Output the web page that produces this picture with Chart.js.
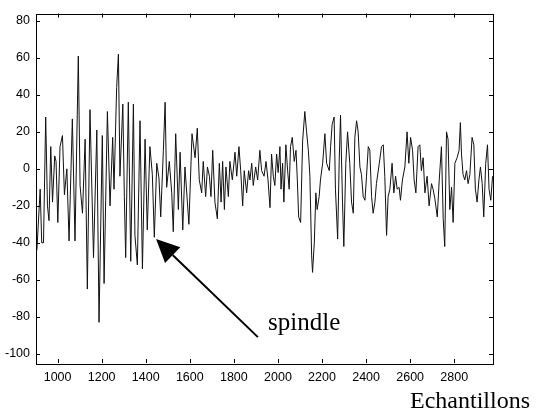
<!DOCTYPE html>
<html>
<head>
<meta charset="utf-8">
<script src="https://cdn.jsdelivr.net/npm/chart.js@4.4.1/dist/chart.umd.min.js"></script>
<style>
  html, body { margin: 0; padding: 0; background: #fff; }
</style>
</head>
<body>
<canvas id="eegChart" width="541" height="416"></canvas>
<script>
// sample index / amplitude (peaks and troughs)
const samples = [
  906, 921, 928, 936, 946, 954, 961, 969, 977, 987, 993, 1001, 1011, 1022, 1031, 1042, 1052, 1067, 1079, 1094,
  1102, 1113, 1125, 1135, 1147, 1163, 1178, 1188, 1203, 1211, 1226, 1238, 1250, 1256, 1268, 1276, 1283, 1296, 1303, 1309,
  1321, 1332, 1344, 1351, 1362, 1374, 1385, 1397, 1407, 1419, 1430, 1439, 1450, 1460, 1468, 1480, 1488, 1495, 1507, 1518,
  1525, 1536, 1548, 1556, 1568, 1578, 1589, 1596, 1610, 1624, 1634, 1643, 1654, 1661, 1672, 1680, 1689, 1696, 1704, 1714,
  1725, 1734, 1742, 1749, 1757, 1764, 1775, 1782, 1793, 1805, 1813, 1823, 1831, 1840, 1847, 1858, 1867, 1873, 1881, 1888,
  1899, 1908, 1918, 1926, 1937, 1946, 1955, 1964, 1971, 1979, 1986, 1994, 2001, 2009, 2014, 2021, 2027, 2036, 2044, 2051,
  2057, 2065, 2074, 2082, 2088, 2094, 2103, 2112, 2122, 2130, 2138, 2145, 2153, 2157, 2165, 2172, 2178, 2187, 2193, 2203,
  2213, 2221, 2233, 2239, 2246, 2255, 2261, 2271, 2278, 2284, 2293, 2299, 2308, 2316, 2326, 2334, 2342, 2349, 2357, 2364,
  2372, 2379, 2387, 2395, 2402, 2410, 2417, 2425, 2432, 2440, 2447, 2460, 2470, 2478, 2485, 2493, 2500, 2508, 2518, 2526,
  2534, 2541, 2550, 2556, 2565, 2576, 2586, 2594, 2602, 2611, 2618, 2626, 2636, 2644, 2651, 2659, 2667, 2677, 2686, 2697,
  2704, 2712, 2723, 2732, 2742, 2750, 2757, 2765, 2772, 2780, 2788, 2795, 2803, 2813, 2822, 2828, 2833, 2840, 2848, 2856,
  2863, 2871, 2881, 2889, 2896, 2904, 2912, 2919, 2927, 2934, 2943, 2951, 2958, 2966, 2974
];
const amplitude = [
  -44, -11, -40, -40, 28, -20, -28, 12, -18, 7, 4, -29, 12, 18, -14, 0, -39, 27, -39, 61,
  -9, -24, 16, -65, 32, -48, 21, -83, 18, -62, 31, -20, 17, -11, 44, 62, -4, 35, -15, -48,
  36, -50, 35, -36, -52, 26, -54, 16, -33, 12, -3, -37, 3, -5, -26, 10, 36, -10, 4, -13,
  -34, 19, -22, 9, -33, 1, -18, -30, 19, 6, 22, -6, -13, 4, -15, 1, -4, -15, 10, -18,
  -27, 3, -18, 4, -22, 1, -15, 4, -6, 9, -4, 12, -1, -20, -1, -13, -1, -6, 3, -9,
  1, -6, 10, -1, -4, 4, -6, -21, 8, -4, -9, 8, -2, 12, -11, 3, -18, 13, -1, -11,
  12, 17, 4, 10, -6, -26, -29, 15, 31, 20, 10, -4, -47, -56, -40, -13, -22, -15, -6, 3,
  19, 3, -1, 12, 24, 28, -11, -38, 4, 29, -18, -42, 3, 20, 3, -18, -24, 17, 26, 20,
  1, -3, -15, -17, -4, 12, 10, -15, -24, -18, -8, 3, 12, 13, -4, -36, -15, -11, 3, -13,
  -4, -11, -10, -17, -6, 1, 20, 3, 17, 10, -6, -13, 12, 13, -1, 6, -13, -4, -20, -8,
  -11, -16, -26, -6, 12, -27, -42, 20, 16, -22, -10, -29, 3, 6, 10, 25, 8, -3, -6, -1,
  -8, -3, 17, 13, -11, -18, -6, 1, -8, -26, 3, 13, -11, -17, -4
];
const xTicks = [1000, 1200, 1400, 1600, 1800, 2000, 2200, 2400, 2600, 2800];
const yTicks = [-100, -80, -60, -40, -20, 0, 20, 40, 60, 80];
const xTitle = 'Echantillons';
const noteText = 'spindle';
const noteTip = [1447, -38];
const noteTail = [1909, -91];
const noteAt = [1955, -87];

const frame = {
  id: 'frame',
  afterDraw(chart) {
    const ctx = chart.ctx;
    const a = chart.chartArea;
    const sx = chart.scales.x, sy = chart.scales.y;
    ctx.save();
    ctx.strokeStyle = '#000';
    ctx.lineWidth = 1;
    ctx.strokeRect(Math.round(a.left) + 0.5, Math.round(a.top) + 0.5, Math.round(a.right - a.left), Math.round(a.bottom - a.top));
    ctx.beginPath();
    xTicks.forEach(v => {
      const px = Math.round(sx.getPixelForValue(v)) + 0.5;
      ctx.moveTo(px, a.bottom); ctx.lineTo(px, a.bottom - 4);
      ctx.moveTo(px, a.top); ctx.lineTo(px, a.top + 4);
    });
    yTicks.forEach(v => {
      const py = Math.round(sy.getPixelForValue(v)) + 0.5;
      ctx.moveTo(a.left, py); ctx.lineTo(a.left + 4, py);
      ctx.moveTo(a.right, py); ctx.lineTo(a.right - 4, py);
    });
    ctx.stroke();

    // arrow pointing at the spindle
    const tx = sx.getPixelForValue(noteTip[0]), ty = sy.getPixelForValue(noteTip[1]);
    const ex = sx.getPixelForValue(noteTail[0]), ey = sy.getPixelForValue(noteTail[1]);
    const ang = Math.atan2(ty - ey, tx - ex);
    const hl = 23, hw = 11;
    const bx = tx - hl * Math.cos(ang), by = ty - hl * Math.sin(ang);
    ctx.lineWidth = 2;
    ctx.beginPath();
    ctx.moveTo(ex, ey); ctx.lineTo(bx, by);
    ctx.stroke();
    ctx.fillStyle = '#000';
    ctx.beginPath();
    ctx.moveTo(tx, ty);
    ctx.lineTo(bx + hw * Math.sin(ang), by - hw * Math.cos(ang));
    ctx.lineTo(bx - hw * Math.sin(ang), by + hw * Math.cos(ang));
    ctx.closePath();
    ctx.fill();

    ctx.font = '25px "Liberation Serif"';
    ctx.textAlign = 'left';
    ctx.textBaseline = 'alphabetic';
    ctx.fillText(noteText, sx.getPixelForValue(noteAt[0]), sy.getPixelForValue(noteAt[1]));

    ctx.font = '24px "Liberation Serif"';
    ctx.fillText(xTitle, 410, 408);
    ctx.restore();
  }
};

new Chart(document.getElementById('eegChart'), {
  type: 'line',
  data: {
    datasets: [{
      data: samples.map((s, i) => ({ x: s, y: amplitude[i] })),
      borderColor: '#111',
      borderWidth: 1,
      pointRadius: 0,
      tension: 0,
      fill: false
    }]
  },
  options: {
    responsive: false,
    animation: false,
    layout: { padding: { top: 8, right: 48, bottom: 0, left: 0 } },
    plugins: { legend: { display: false }, tooltip: { enabled: false } },
    scales: {
      x: {
        type: 'linear',
        min: 902,
        max: 2976,
        afterBuildTicks: s => { s.ticks = xTicks.map(v => ({ value: v })); },
        afterFit: s => { s.height = 53; },
        grid: { display: false, drawTicks: false },
        border: { display: false },
        ticks: { color: '#000', padding: 7, maxRotation: 0, callback: v => String(v), font: { family: 'Liberation Sans', size: 12.5 } }
      },
      y: {
        min: -105,
        max: 84,
        afterBuildTicks: s => { s.ticks = yTicks.map(v => ({ value: v })); },
        afterFit: s => { s.width = 36; },
        grid: { display: false, drawTicks: false },
        border: { display: false },
        ticks: { color: '#000', padding: 6, callback: v => String(v), font: { family: 'Liberation Sans', size: 12.5 } }
      }
    }
  },
  plugins: [frame]
});
</script>
</body>
</html>
